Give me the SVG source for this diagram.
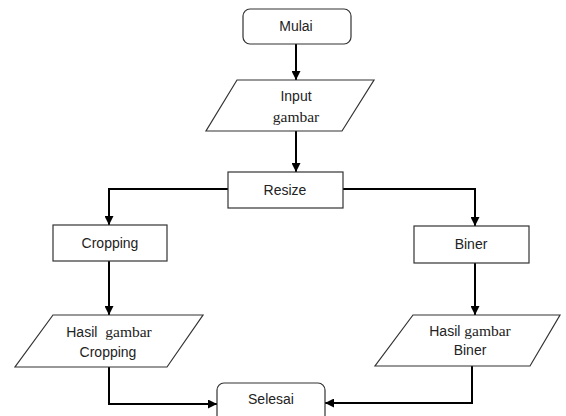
<svg xmlns="http://www.w3.org/2000/svg" width="566" height="416" viewBox="0 0 566 416">
<defs>
<marker id="ah" markerWidth="9" markerHeight="9" refX="9" refY="4.5" orient="auto" markerUnits="userSpaceOnUse">
<path d="M0,0 L9,4.5 L0,9 Z" fill="#000"/>
</marker>
<style>
.box{fill:#fff;stroke:#333;stroke-width:1.2}
.con{fill:none;stroke:#000;stroke-width:2;marker-end:url(#ah)}
text{fill:#222;text-anchor:middle}
</style>
</defs>
<rect width="566" height="416" fill="#fff"/>
<g id="connectors">
<path class="con" d="M296,44 L296,80"/>
<path class="con" d="M296,131 L296,172"/>
<path class="con" d="M228,189 L109,189 L109,225"/>
<path class="con" d="M343,189 L475,189 L475,226"/>
<path class="con" d="M109,261 L109,315"/>
<path class="con" d="M475,263 L475,315"/>
<path class="con" d="M109,367 L109,404 L217,404"/>
<path class="con" d="M472,366 L472,403 L325,403"/>
</g>
<g font-family="Liberation Sans, Arial, sans-serif" font-size="14">
<g id="mulai">
<rect class="box" x="243" y="9" width="108" height="35" rx="7"/>
<text x="296" y="31">Mulai</text>
</g>
<g id="input">
<polygon class="box" points="237,80 374,80 342,131 206,131"/>
<text x="296" y="101">Input</text>
<text x="296" y="122" font-family="Liberation Serif, DejaVu Serif, serif" font-size="15.5">gambar</text>
</g>
<g id="resize">
<rect class="box" x="228" y="172" width="115" height="36"/>
<text x="285" y="195">Resize</text>
</g>
<g id="cropping">
<rect class="box" x="53" y="225" width="114" height="36"/>
<text x="110" y="248">Cropping</text>
</g>
<g id="biner">
<rect class="box" x="414" y="226" width="115" height="37"/>
<text x="471" y="249">Biner</text>
</g>
<g id="hasil-cropping">
<polygon class="box" points="53,315 203,315 167,367 15,367"/>
<text x="109" y="337">Hasil <tspan dx="4" font-family="Liberation Serif, DejaVu Serif, serif" font-size="15.5">gambar</tspan></text>
<text x="108" y="357">Cropping</text>
</g>
<g id="hasil-biner">
<polygon class="box" points="413,315 560,315 530,366 375,366"/>
<text x="470" y="336">Hasil <tspan font-family="Liberation Serif, DejaVu Serif, serif" font-size="15.5">gambar</tspan></text>
<text x="470" y="355">Biner</text>
</g>
<g id="selesai">
<rect class="box" x="217" y="383" width="108" height="40" rx="7"/>
<text x="271" y="404">Selesai</text>
</g>
</g>
</svg>
